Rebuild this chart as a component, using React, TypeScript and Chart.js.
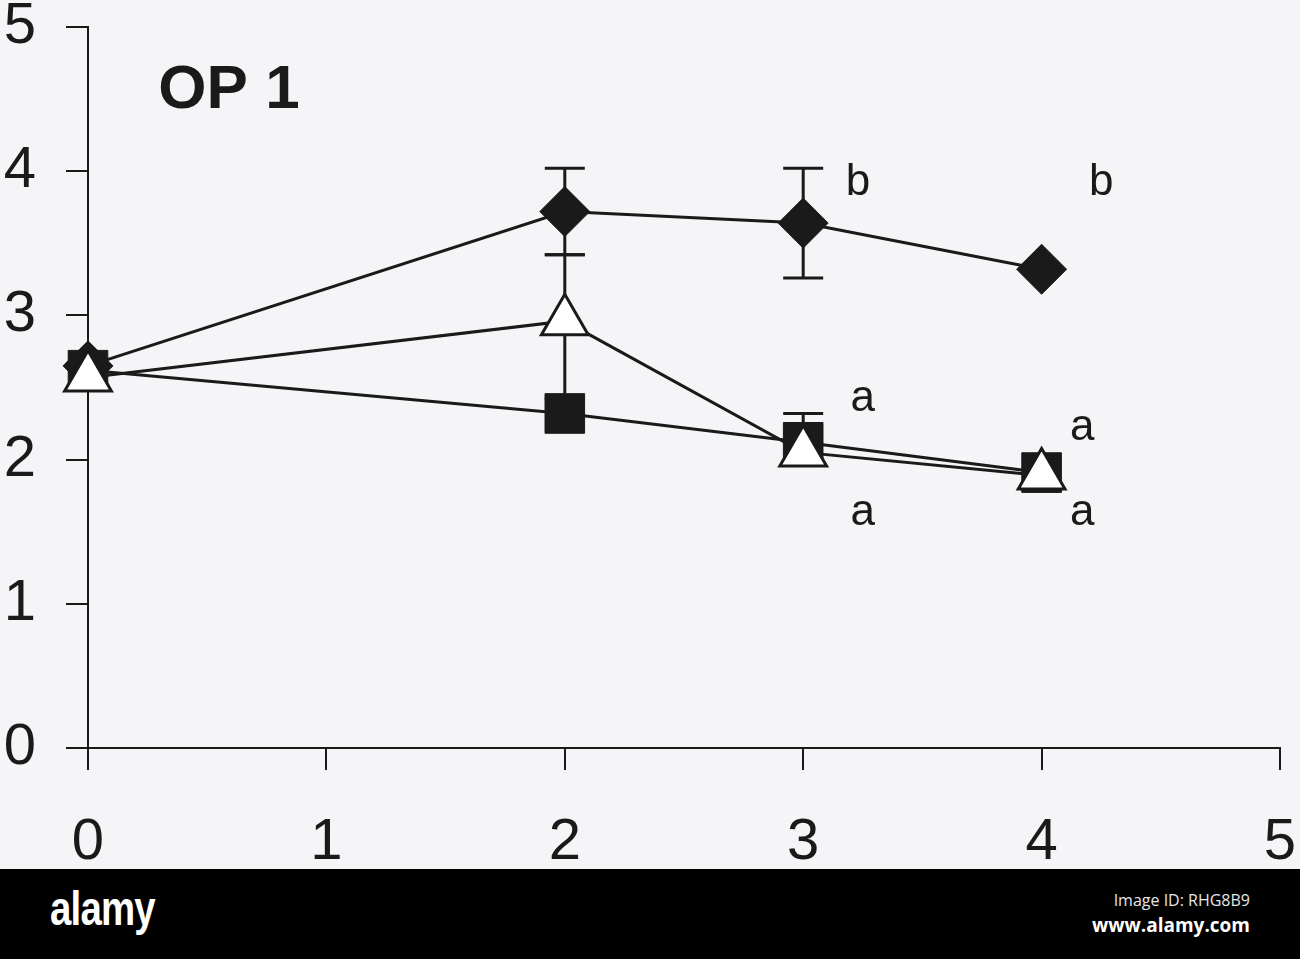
import { useEffect, useRef } from "react";
import { Chart, registerables } from "chart.js";

Chart.register(...registerables);

// time points on the x axis
const times = [0, 2, 3, 4];
const xTicks = [0, 1, 2, 3, 4, 5];
const yTicks = [0, 1, 2, 3, 4, 5];

// open triangles
const triangle = [2.57, 2.96, 2.05, 1.89];
const triangleHi = [null, 3.42, null, null];
const triangleLo = [null, 2.42, null, null];

// filled squares
const square = [2.62, 2.32, 2.12, 1.91];
const squareHi = [null, null, 2.32, null];
const squareLo = [null, null, null, null];

// filled diamonds
const diamond = [2.65, 3.72, 3.64, 3.32];
const diamondHi = [null, 4.02, 4.02, null];
const diamondLo = [null, 3.42, 3.26, null];

// significance letters
const letters = ["b", "b", "a", "a", "a", "a"];
const letterX = [3.23, 4.25, 3.25, 4.17, 3.25, 4.17];
const letterY = [3.92, 3.92, 2.42, 2.22, 1.63, 1.63];

const panelLabel = "OP 1";

const INK = "#1a1a1a";
const FONT = "'Liberation Sans', Arial, sans-serif";

const errorBars = {
  id: "errorBars",
  beforeDatasetsDraw(chart: any) {
    const { ctx } = chart;
    const xs = chart.scales.x;
    const ys = chart.scales.y;
    ctx.save();
    ctx.strokeStyle = INK;
    ctx.lineWidth = 3;
    chart.data.datasets.forEach((ds: any) => {
      const hi = ds.errHi || [];
      const lo = ds.errLo || [];
      ds.data.forEach((p: any, i: number) => {
        const px = xs.getPixelForValue(p.x);
        const py = ys.getPixelForValue(p.y);
        [hi[i], lo[i]].forEach((e) => {
          if (e == null) return;
          const ey = ys.getPixelForValue(e);
          ctx.beginPath();
          ctx.moveTo(px, py);
          ctx.lineTo(px, ey);
          ctx.moveTo(px - 20, ey);
          ctx.lineTo(px + 20, ey);
          ctx.stroke();
        });
      });
    });
    ctx.restore();
  },
};

const labels = {
  id: "labels",
  afterDraw(chart: any) {
    const { ctx } = chart;
    const xs = chart.scales.x;
    const ys = chart.scales.y;
    ctx.save();
    ctx.fillStyle = INK;
    ctx.textBaseline = "middle";
    ctx.textAlign = "center";
    ctx.font = `44px ${FONT}`;
    letters.forEach((t, i) => {
      ctx.fillText(t, xs.getPixelForValue(letterX[i]), ys.getPixelForValue(letterY[i]));
    });
    ctx.textAlign = "left";
    ctx.font = `bold 62px ${FONT}`;
    ctx.fillText(panelLabel, xs.getPixelForValue(0.295), ys.getPixelForValue(4.56));
    ctx.restore();
  },
};

function series(values: number[]) {
  return values.map((v, i) => ({ x: times[i], y: v }));
}

export function OpChart() {
  const ref = useRef<HTMLCanvasElement>(null);
  const chartRef = useRef<Chart | null>(null);

  useEffect(() => {
    if (!ref.current) return;
    chartRef.current?.destroy();
    chartRef.current = new Chart(ref.current, {
      type: "scatter",
      data: {
        datasets: [
          {
            label: "triangle",
            data: series(triangle),
            errHi: triangleHi,
            errLo: triangleLo,
            showLine: true,
            clip: false,
            borderColor: INK,
            borderWidth: 3,
            pointStyle: "triangle",
            pointRadius: 27,
            pointBackgroundColor: "#ffffff",
            pointBorderColor: INK,
            pointBorderWidth: 3,
          } as any,
          {
            label: "square",
            data: series(square),
            errHi: squareHi,
            errLo: squareLo,
            showLine: true,
            clip: false,
            borderColor: INK,
            borderWidth: 3,
            pointStyle: "rect",
            pointRadius: 28,
            pointBackgroundColor: INK,
            pointBorderColor: INK,
            pointBorderWidth: 1,
          } as any,
          {
            label: "diamond",
            data: series(diamond),
            errHi: diamondHi,
            errLo: diamondLo,
            showLine: true,
            clip: false,
            borderColor: INK,
            borderWidth: 3,
            pointStyle: "rectRot",
            pointRadius: 25,
            pointBackgroundColor: INK,
            pointBorderColor: INK,
            pointBorderWidth: 1,
          } as any,
        ],
      },
      options: {
        responsive: true,
        maintainAspectRatio: false,
        animation: false,
        layout: { autoPadding: false, padding: { top: 27, right: 20, left: 0, bottom: 0 } },
        plugins: {
          legend: { display: false },
          tooltip: { enabled: false },
        },
        scales: {
          x: {
            type: "linear",
            min: 0,
            max: 5,
            afterBuildTicks: (s: any) => { s.ticks = xTicks.map((v) => ({ value: v })); },
            afterFit: (s: any) => { s.height = 121; s.paddingLeft = 0; s.paddingRight = 0; },
            grid: { drawOnChartArea: false, drawTicks: true, tickLength: 22, color: INK, lineWidth: 2 },
            border: { display: true, color: INK, width: 2 },
            ticks: { color: INK, padding: 38, font: { family: FONT, size: 58 } },
          },
          y: {
            type: "linear",
            min: 0,
            max: 5,
            afterBuildTicks: (s: any) => { s.ticks = yTicks.map((v) => ({ value: v })); },
            afterFit: (s: any) => { s.width = 88; s.paddingTop = 0; s.paddingBottom = 0; },
            grid: { drawOnChartArea: false, drawTicks: true, tickLength: 22, color: INK, lineWidth: 2 },
            border: { display: true, color: INK, width: 2 },
            ticks: { color: INK, padding: 30, font: { family: FONT, size: 58 } },
          },
        },
      },
      plugins: [errorBars, labels],
    });
    return () => { chartRef.current?.destroy(); };
  }, []);

  return (
    <div style={{ position: "absolute", left: 0, top: 0, width: 1300, height: 869 }}>
      <canvas ref={ref} />
    </div>
  );
}

export default function App() {
  return (
    <div style={{ position: "absolute", left: 0, top: 0, width: 1300, height: 959, background: "#f5f5f7", overflow: "hidden" }}>
      <OpChart />
      <div style={{ position: "absolute", left: 0, top: 869, width: 1300, height: 90, background: "#000" }}>
        <div
          style={{
            position: "absolute", left: 50, top: 12, color: "#fff", fontFamily: FONT, fontWeight: 700,
            fontSize: 48, letterSpacing: -1, transform: "scaleX(0.8)", transformOrigin: "left top",
          }}
        >
          alamy
        </div>
        <div style={{ position: "absolute", right: 50, top: 20, color: "#e6e6e6", fontFamily: "'Open Sans', sans-serif", fontSize: 16, lineHeight: "22px" }}>
          Image ID: RHG8B9
        </div>
        <div style={{ position: "absolute", right: 50, top: 44, color: "#fff", fontFamily: "'Open Sans', sans-serif", fontWeight: 700, fontSize: 19, lineHeight: "24px" }}>
          www.alamy.com
        </div>
      </div>
    </div>
  );
}
